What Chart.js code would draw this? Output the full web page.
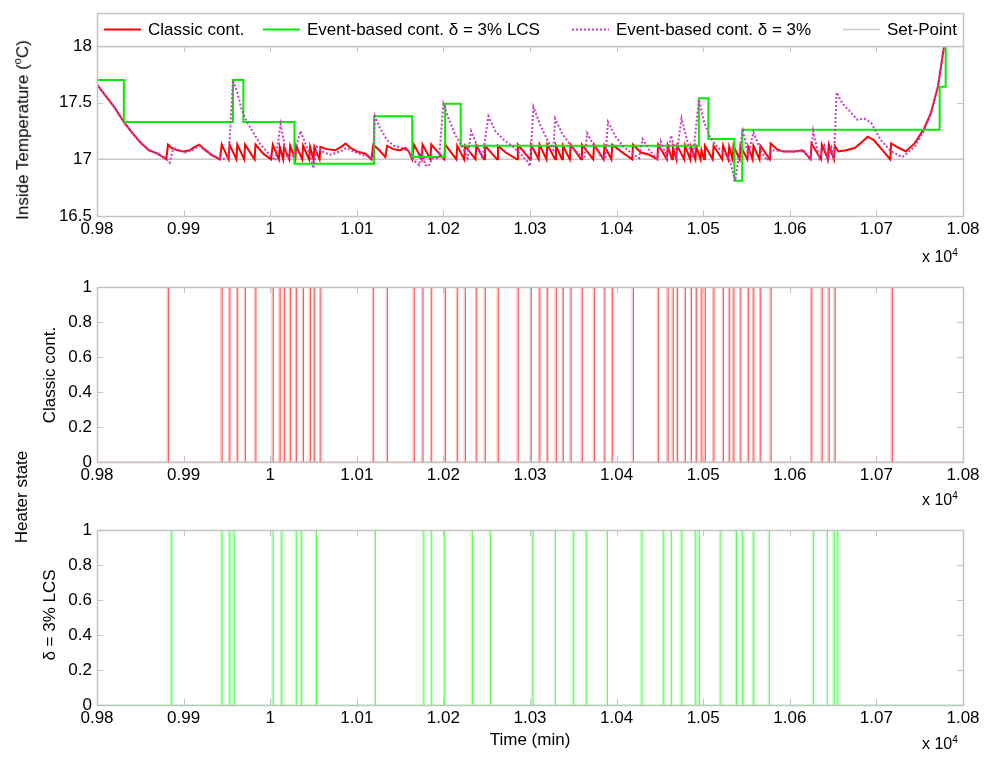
<!DOCTYPE html>
<html>
<head>
<meta charset="utf-8">
<script src="https://cdn.jsdelivr.net/npm/chart.js@4.4.0/dist/chart.umd.min.js"></script>
<style>
  body { margin: 0; background: #fff; width: 1000px; height: 773px; position: relative; overflow: hidden;
         font-family: "Liberation Sans", Arial, sans-serif; color: #000; }
  canvas { position: absolute; left: 0; }
  .lbl { position: absolute; font-size: 17px; white-space: nowrap; transform: translate(-50%, -50%); }
  .rot { transform: translate(-50%, -50%) rotate(-90deg); }
  .mult { position: absolute; font-size: 16px; white-space: nowrap; }
  .mult sup { font-size: 10px; }
</style>
</head>
<body>
<canvas id="tempChart" width="1000" height="250" style="top:0"></canvas>
<canvas id="classicChart" width="1000" height="250" style="top:250px"></canvas>
<canvas id="lcsChart" width="1000" height="273" style="top:500px"></canvas>

<div class="lbl rot" style="left:22px;top:130px">Inside Temperature (<sup style="font-size:11px">o</sup>C)</div>
<div class="lbl rot" style="left:50px;top:375px">Classic cont.</div>
<div class="lbl rot" style="left:22px;top:497px">Heater state</div>
<div class="lbl rot" style="left:50px;top:615px">&delta; = 3% LCS</div>
<div class="lbl" style="left:530px;top:740px">Time (min)</div>
<div class="mult" style="left:922px;top:247px">x 10<sup>4</sup></div>
<div class="mult" style="left:922px;top:490px">x 10<sup>4</sup></div>
<div class="mult" style="left:922px;top:734px">x 10<sup>4</sup></div>

<script>
// ---- data (time in minutes) ----
const timeTicks = [9800, 9900, 10000, 10100, 10200, 10300, 10400, 10500, 10600, 10700, 10800];
const tempTicks = [16.5, 17, 17.5, 18];
const heaterTicks = [0, 0.2, 0.4, 0.6, 0.8, 1];

const setPoint = 17;

// classic on/off controller, inside temperature [time, degC]
const classicCurve = [
  [9800,17.66],[9810,17.56],[9820,17.46],[9831,17.33],[9840,17.24],[9850,17.15],[9860,17.08],[9870,17.05],[9880,17.0],
  [9882,17.13],[9886,17.1],[9893,17.08],[9900,17.07],[9907,17.08],[9913,17.11],[9918,17.13],[9924,17.09],[9932,17.04],[9942,17.0],
  [9944,17.13],[9952,17.0],[9953,17.13],[9961,17.0],[9962,17.13],[9970,17.0],[9971,17.13],[9982,17.0],[9983,17.13],[9992,17.05],[10001,17.0],
  [10003,17.13],[10010,17.0],[10011,17.11],[10015,17.0],[10016,17.11],[10022,17.0],[10023,17.12],[10029,17.0],[10030,17.12],[10037,17.0],
  [10038,17.12],[10045,17.0],[10046,17.11],[10050,17.0],[10051,17.11],[10057,17.0],[10058,17.11],
  [10065,17.09],[10075,17.08],[10082,17.11],[10087,17.14],[10093,17.1],[10100,17.07],[10110,17.05],[10117,17.0],
  [10119,17.13],[10126,17.08],[10133,17.02],[10135,17.12],[10142,17.09],[10150,17.08],[10156,17.1],[10160,17.07],[10164,17.0],
  [10166,17.13],[10175,17.0],[10176,17.13],[10185,17.0],[10186,17.13],[10201,17.0],[10202,17.13],[10215,17.0],[10216,17.12],
  [10224,17.0],[10225,17.12],[10237,17.0],[10238,17.12],[10247,17.0],[10248,17.12],[10262,17.0],[10263,17.12],[10272,17.06],
  [10285,17.0],[10286,17.13],[10300,17.0],[10301,17.13],[10310,17.0],[10311,17.13],[10319,17.0],[10320,17.13],[10329,17.0],
  [10330,17.12],[10337,17.0],[10338,17.12],[10346,17.0],[10347,17.13],[10359,17.0],[10360,17.13],[10373,17.0],[10374,17.13],
  [10385,17.0],[10386,17.12],[10394,17.0],[10395,17.13],[10405,17.07],[10418,17.0],[10419,17.13],[10428,17.06],[10438,17.04],[10447,17.0],
  [10448,17.13],[10458,17.0],[10459,17.12],[10464,17.0],[10465,17.1],[10469,17.0],[10470,17.12],[10478,17.0],[10479,17.12],
  [10485,17.0],[10486,17.11],[10491,17.0],[10492,17.11],[10497,17.0],[10498,17.08],[10501,17.0],[10502,17.12],[10511,17.0],
  [10512,17.12],[10522,17.0],[10523,17.12],[10529,17.0],[10530,17.11],[10534,17.0],[10535,17.12],[10542,17.0],[10543,17.12],
  [10551,17.0],[10552,17.11],[10557,17.0],[10558,17.12],[10565,17.0],[10566,17.12],[10577,17.0],[10578,17.14],
  [10585,17.09],[10592,17.07],[10605,17.07],[10615,17.08],[10624,17.0],[10625,17.14],[10636,17.0],[10637,17.13],[10644,17.0],
  [10645,17.13],[10651,17.0],[10652,17.12],[10656,17.07],[10665,17.08],[10675,17.1],[10683,17.15],[10690,17.2],[10697,17.17],
  [10706,17.09],[10716,17.0],[10717,17.14],[10726,17.1],[10734,17.07],[10744,17.14],[10755,17.27],[10763,17.41],[10771,17.64],
  [10778,17.99],[10782,18.15]
];

// event-based LCS controller: sensor value held between events [time, degC]
const lcsSteps = [
  [9800,17.7],[9831,17.33],[9957,17.7],[9969,17.33],[10028,16.96],[10120,17.38],[10164,17.02],[10202,17.49],
  [10220,17.12],[10495,17.54],[10506,17.18],[10536,16.81],[10545,17.26],[10773,17.64],[10780,18.05],[10800,18.05]
];

// event-based controller, delta = 3% [time, degC]
const eventCurve = [
  [9800,17.66],[9810,17.56],[9820,17.46],[9831,17.33],[9840,17.24],[9850,17.15],[9860,17.08],[9870,17.05],[9880,17.01],
  [9884,16.97],[9888,17.1],[9895,17.08],[9902,17.06],[9910,17.08],[9918,17.12],[9926,17.07],[9935,17.03],[9945,17.0],
  [9952,17.02],[9957,17.7],[9962,17.59],[9967,17.44],[9973,17.33],[9981,17.23],[9988,17.14],[9996,17.07],[10002,17.02],
  [10006,16.99],[10012,17.31],[10016,17.15],[10020,17.01],[10027,17.03],[10035,17.25],[10040,17.15],[10046,17.04],
  [10050,16.92],[10054,17.11],[10060,17.07],[10069,17.04],[10081,17.07],[10088,17.1],[10096,17.07],[10106,17.04],
  [10115,17.02],[10119,17.01],[10121,17.38],[10127,17.27],[10135,17.17],[10143,17.12],[10152,17.1],[10160,17.07],
  [10166,16.99],[10172,16.95],[10175,17.08],[10179,16.95],[10183,16.94],[10187,17.01],[10195,17.01],[10200,17.49],
  [10206,17.36],[10214,17.21],[10222,17.11],[10228,17.01],[10232,17.25],[10239,17.12],[10245,17.01],[10252,17.38],
  [10260,17.25],[10270,17.17],[10279,17.12],[10289,17.05],[10297,16.98],[10300,16.94],[10304,17.46],[10312,17.3],
  [10320,17.17],[10327,17.08],[10329,17.36],[10337,17.23],[10347,17.12],[10356,17.05],[10363,17.01],[10366,17.23],
  [10374,17.12],[10381,17.04],[10387,17.01],[10390,17.33],[10399,17.2],[10408,17.11],[10418,17.05],[10426,17.01],
  [10430,17.18],[10438,17.08],[10447,17.0],[10451,17.16],[10458,17.02],[10463,17.21],[10469,17.03],[10475,17.36],
  [10482,17.15],[10488,17.01],[10495,17.53],[10501,17.33],[10507,17.21],[10515,17.12],[10522,17.07],[10530,17.01],
  [10537,16.81],[10544,17.18],[10546,17.25],[10552,17.04],[10558,17.24],[10567,17.07],[10574,16.99],[10579,17.08],
  [10597,17.07],[10617,17.07],[10624,16.99],[10627,17.25],[10634,17.01],[10640,17.12],[10644,16.99],[10648,17.1],
  [10651,16.99],[10654,17.59],[10661,17.49],[10671,17.41],[10678,17.35],[10686,17.36],[10694,17.32],[10705,17.17],
  [10717,17.07],[10730,17.02],[10744,17.11],[10755,17.25],[10763,17.41],[10771,17.64],[10778,17.99],[10782,18.15]
];

// heater switch-on instants (min)
const classicPulseStart = [
  9881, 9943, 9952, 9961, 9970, 9982, 10002, 10010, 10015, 10022, 10029, 10037, 10045, 10050, 10057,
  10118, 10134, 10165, 10175, 10185, 10201, 10215, 10224, 10237, 10247, 10262, 10285, 10300, 10310,
  10319, 10329, 10337, 10346, 10359, 10373, 10385, 10394, 10418, 10447, 10458, 10464, 10469, 10478,
  10485, 10491, 10497, 10501, 10511, 10522, 10529, 10534, 10542, 10551, 10557, 10565, 10577, 10624,
  10636, 10644, 10651, 10717
];
const lcsPulseStart = [
  9885, 9943, 9952, 9957, 10002, 10012, 10029, 10035, 10052, 10120, 10176, 10185, 10200, 10232, 10253,
  10302, 10328, 10349, 10364, 10388, 10428, 10453, 10462, 10474, 10490, 10494, 10519, 10537, 10544,
  10557, 10575, 10626, 10642, 10650, 10654
];
const pulseLength = 1.5;   // minutes the heater stays on

// ---- helpers ----
const FONT = { family: '"Liberation Sans", Arial, sans-serif', size: 17 };
const axisColor = '#c4c4c4';

function toPoints(pairs) {
  return pairs.map(p => ({ x: p[0], y: p[1] }));
}

function pulsePoints(starts) {
  const pts = [{ x: timeTicks[0], y: 0 }];
  starts.forEach(t => {
    pts.push({ x: t, y: 0 }, { x: t, y: 1 }, { x: t + pulseLength, y: 1 }, { x: t + pulseLength, y: 0 });
  });
  pts.push({ x: timeTicks[timeTicks.length - 1], y: 0 });
  return pts;
}

function fixedTicks(values) {
  return scale => { scale.ticks = values.map(v => ({ value: v })); };
}

function xScale(height) {
  return {
    type: 'linear',
    min: timeTicks[0],
    max: timeTicks[timeTicks.length - 1],
    afterBuildTicks: fixedTicks(timeTicks),
    afterFit: s => { s.height = height; },
    grid: { display: false, drawTicks: false },
    border: { display: false },
    ticks: {
      color: '#000', font: FONT, padding: 3, maxRotation: 0, autoSkip: false,
      callback: v => String(+(v / 10000).toFixed(2))
    }
  };
}

function yScale(min, max, ticks) {
  return {
    min: min,
    max: max,
    afterBuildTicks: fixedTicks(ticks),
    afterFit: s => { s.width = 97; },
    grid: { display: false, drawTicks: false },
    border: { display: false },
    ticks: { color: '#000', font: FONT, padding: 5, callback: v => String(+v.toFixed(2)) }
  };
}

// box around the axes with inward tick marks, MATLAB style
const boxPlugin = {
  id: 'matlabBox',
  afterDatasetsDraw(chart) {
    const { ctx, chartArea: a, scales } = chart;
    const len = 6;
    ctx.save();
    ctx.strokeStyle = axisColor;
    ctx.lineWidth = 1;
    ctx.beginPath();
    scales.x.ticks.forEach(t => {
      const px = Math.round(scales.x.getPixelForValue(t.value)) + 0.5;
      ctx.moveTo(px, a.bottom); ctx.lineTo(px, a.bottom - len);
      ctx.moveTo(px, a.top); ctx.lineTo(px, a.top + len);
    });
    scales.y.ticks.forEach(t => {
      const py = Math.round(scales.y.getPixelForValue(t.value)) + 0.5;
      ctx.moveTo(a.left, py); ctx.lineTo(a.left + len, py);
      ctx.moveTo(a.right, py); ctx.lineTo(a.right - len, py);
    });
    ctx.stroke();
    ctx.lineWidth = 1.5;
    ctx.strokeRect(Math.round(a.left) + 0.5, Math.round(a.top) + 0.5,
                   Math.round(a.right - a.left), Math.round(a.bottom - a.top));
    ctx.restore();
  }
};

// horizontal legend box sitting on top of the temperature axes
const legendPlugin = {
  id: 'boxLegend',
  afterDraw(chart, args, opts) {
    const { ctx, chartArea: a } = chart;
    const top = opts.top, cy = (top + a.top) / 2;
    ctx.save();
    ctx.fillStyle = '#fff';
    ctx.fillRect(a.left, top, a.right - a.left, a.top - top);
    ctx.strokeStyle = axisColor;
    ctx.lineWidth = 1.5;
    ctx.strokeRect(Math.round(a.left) + 0.5, top + 0.5, Math.round(a.right - a.left), Math.round(a.top - top));
    ctx.font = FONT.size + 'px ' + FONT.family;
    ctx.textBaseline = 'middle';
    chart.data.datasets.forEach((ds, i) => {
      const x = opts.slots[i];
      ctx.strokeStyle = ds.borderColor;
      ctx.lineWidth = ds.borderWidth;
      ctx.setLineDash(ds.borderDash || []);
      ctx.beginPath();
      ctx.moveTo(x, cy); ctx.lineTo(x + opts.sample, cy);
      ctx.stroke();
      ctx.setLineDash([]);
      ctx.fillStyle = '#000';
      ctx.fillText(ds.label, x + opts.sample + 7, cy + 1);
    });
    ctx.restore();
  }
};

function lineDataset(label, data, color, width, extra) {
  return Object.assign({
    label: label, data: data, borderColor: color, borderWidth: width,
    pointRadius: 0, pointHoverRadius: 0, tension: 0, fill: false
  }, extra || {});
}

Chart.defaults.animation = false;
Chart.defaults.font.family = FONT.family;

// ---- top: inside temperature ----
new Chart(document.getElementById('tempChart'), {
  type: 'line',
  data: {
    datasets: [
      lineDataset('Classic cont.', toPoints(classicCurve), '#ff0000', 2, { order: 3 }),
      lineDataset('Event-based cont. \u03b4 = 3% LCS', toPoints(lcsSteps), '#00ee00', 2, { stepped: 'before', order: 2 }),
      lineDataset('Event-based cont. \u03b4 = 3%', toPoints(eventCurve), '#c83cc8', 2, { borderDash: [2, 2], order: 1 }),
      lineDataset('Set-Point', [{ x: timeTicks[0], y: setPoint }, { x: timeTicks[timeTicks.length - 1], y: setPoint }], '#c8c8c8', 1.5, { order: 4 })
    ]
  },
  options: {
    responsive: false,
    layout: { padding: { top: 46, right: 37, bottom: 0, left: 0 } },
    scales: { x: xScale(34), y: yScale(16.5, 18, tempTicks) },
    plugins: {
      legend: { display: false },
      tooltip: { enabled: false },
      boxLegend: { top: 13, sample: 37, slots: [104, 263, 572, 843] }
    }
  },
  plugins: [boxPlugin, legendPlugin]
});

// ---- heater state panels ----
function heaterChart(id, label, starts, color, padTop, xHeight) {
  new Chart(document.getElementById(id), {
    type: 'line',
    data: { datasets: [lineDataset(label, pulsePoints(starts), color, 1)] },
    options: {
      responsive: false,
      layout: { padding: { top: padTop, right: 37, bottom: 0, left: 0 } },
      scales: { x: xScale(xHeight), y: yScale(0, 1, heaterTicks) },
      plugins: { legend: { display: false }, tooltip: { enabled: false } }
    },
    plugins: [boxPlugin]
  });
}

heaterChart('classicChart', 'Classic cont.', classicPulseStart, 'rgba(255,0,0,0.3)', 37, 38);
heaterChart('lcsChart', '\u03b4 = 3% LCS', lcsPulseStart, 'rgba(0,255,0,0.3)', 30, 68);
</script>
</body>
</html>
